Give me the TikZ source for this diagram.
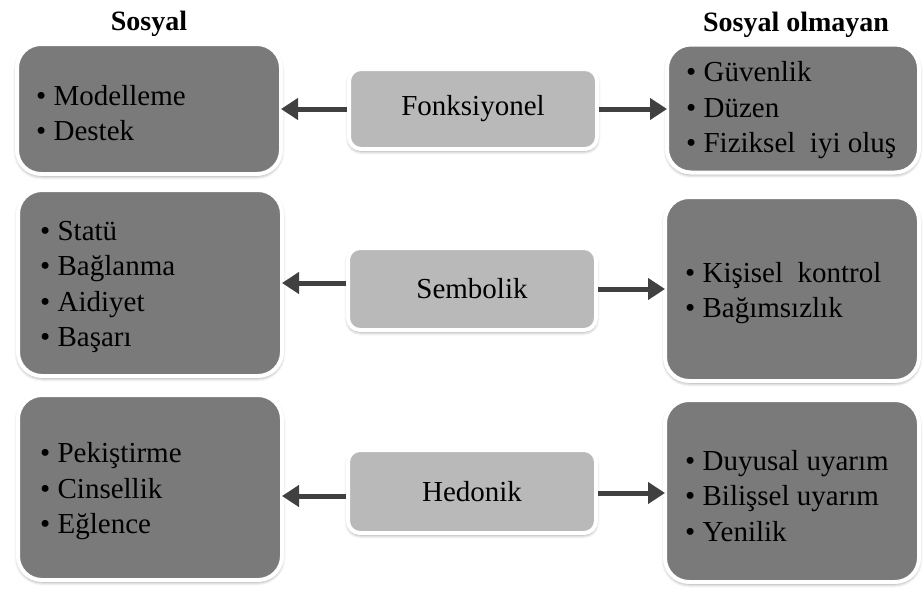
\documentclass[tikz,border=0pt]{standalone}
\usepackage{fontspec}
\setmainfont{Liberation Serif}
\usetikzlibrary{arrows.meta,shadows.blur,calc}

\definecolor{boxdark}{HTML}{7A7A7A}
\definecolor{boxlight}{HTML}{B9B9B9}
\definecolor{arrowgrey}{HTML}{404040}

\tikzset{
  softshadow/.style={blur shadow={shadow xshift=0pt, shadow yshift=-2pt,
      shadow blur radius=3.5pt, shadow opacity=45}},
  listbox/.style={draw=white, line width=4pt, fill=boxdark, rounded corners=24pt,
      softshadow, inner sep=0pt, outer sep=0pt},
  catbox/.style={draw=white, line width=4pt, fill=boxlight, rounded corners=12pt,
      softshadow, inner sep=0pt, outer sep=0pt, minimum width=248pt,
      font=\fontsize{29}{35}\selectfont},
  listtext/.style={anchor=west, align=left, inner sep=0pt,
      font=\fontsize{29}{35.5}\selectfont},
  heading/.style={font=\fontsize{28}{32}\selectfont\bfseries, inner sep=0pt, anchor=base},
  link/.style={draw=arrowgrey, line width=5pt,
      -{Triangle[length=17pt,width=21pt]}}
}

\begin{document}
\begin{tikzpicture}[x=1pt, y=-1pt]
  \useasboundingbox (0,0) rectangle (923,589);

  % column headings
  \node[heading] (hsocial) at (149,30) {Sosyal};
  \node[heading] (hnonsocial) at (796,31) {Sosyal olmayan};

  % left column: social
  \node[listbox, minimum width=264pt, minimum height=130pt] (l1) at (149,109) {};
  \node[listbox, minimum width=264pt, minimum height=186pt] (l2) at (150,283) {};
  \node[listbox, minimum width=264pt, minimum height=185pt] (l3) at (150,487.5) {};

  % right column: non-social
  \node[listbox, minimum width=252pt, minimum height=128pt] (r1) at (793,108.5) {};
  \node[listbox, minimum width=254pt, minimum height=184pt] (r2) at (792,289) {};
  \node[listbox, minimum width=254pt, minimum height=182pt] (r3) at (792,491) {};

  % middle column: categories
  \node[catbox, minimum height=80pt] (m1) at (473,109) {Fonksiyonel};
  \node[catbox, minimum height=82pt] (m2) at (472,289) {Sembolik};
  \node[catbox, minimum height=83pt] (m3) at (472,491.5) {Hedonik};

  % list contents
  \node[listtext] (t1) at ([xshift=19pt,yshift=-4pt]l1.west) {• Modelleme\\• Destek};
  \node[listtext] (t2) at ([xshift=22pt,yshift=-4pt]l2.west) {• Statü\\• Bağlanma\\• Aidiyet\\• Başarı};
  \node[listtext] (t3) at ([xshift=22pt,yshift=-4pt]l3.west) {• Pekiştirme\\• Cinsellik\\• Eğlence};
  \node[listtext] (t4) at ([xshift=19pt,yshift=-2pt]r1.west) {• Güvenlik\\• Düzen\\• Fiziksel\ \ iyi oluş};
  \node[listtext] (t5) at ([xshift=20pt,yshift=-4pt]r2.west) {• Kişisel\ \ kontrol\\• Bağımsızlık};
  \node[listtext] (t6) at ([xshift=20pt,yshift=-5pt]r3.west) {• Duyusal uyarım\\• Bilişsel uyarım\\• Yenilik};

  % connectors: start at the white rim of the middle box, tip on the outer box
  \draw[link] ([xshift=-2pt]m1.west) -- (m1.west -| l1.east);
  \draw[link] ([xshift=2pt]m1.east) -- (m1.east -| r1.west);
  \draw[link] ([xshift=-2pt]m2.west |- l2.east) -- (l2.east);
  \draw[link] ([xshift=2pt]m2.east) -- (m2.east -| r2.west);
  \draw[link] ([xshift=-2pt,yshift=-4.5pt]m3.west) -- ([yshift=-4.5pt]m3.west -| l3.east);
  \draw[link] ([xshift=2pt,yshift=-1.5pt]m3.east) -- ([yshift=-1.5pt]m3.east -| r3.west);
\end{tikzpicture}
\end{document}
